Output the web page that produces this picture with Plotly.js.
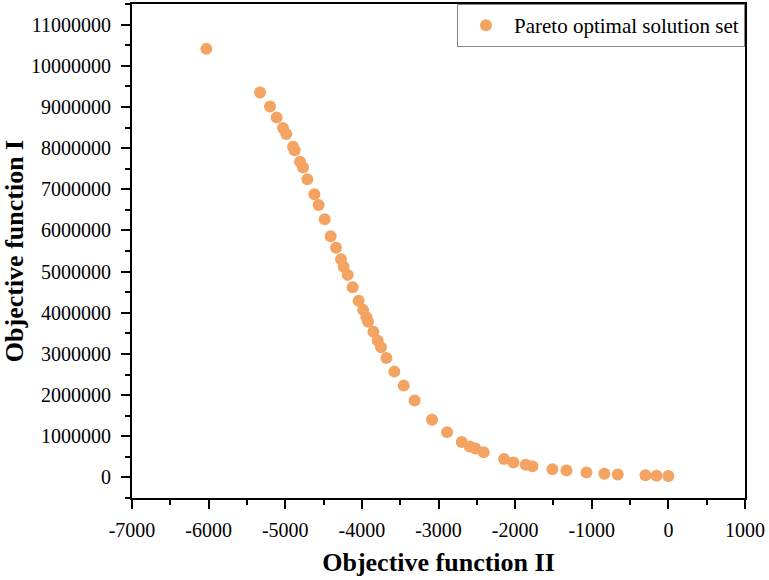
<!DOCTYPE html>
<html>
<head>
<meta charset="utf-8">
<script src="https://cdn.plot.ly/plotly-3.0.1.min.js"></script>
<style>
  html, body { margin: 0; padding: 0; background: #fff; }
  #chart { width: 769px; height: 580px; }
</style>
</head>
<body>
<div id="chart"></div>
<script>
// Pareto front: objective II (x) against objective I (y)
const objectiveII = [
  -6030, -5329, -5199, -5112, -5029, -4986, -4898, -4877, -4807, -4768,
  -4711, -4620, -4564, -4486, -4407, -4337, -4272, -4238, -4185, -4120,
  -4042, -3984, -3941, -3919, -3850, -3794, -3750, -3680, -3576, -3454,
  -3311, -3084, -2888, -2697, -2593, -2518, -2410, -2144, -2022, -1862,
  -1774, -1513, -1330, -1069, -835, -661, -299, -155, 0
];
const objectiveI = [
  10410000, 9350000, 9010000, 8740000, 8490000, 8340000, 8030000, 7950000, 7670000, 7530000,
  7240000, 6880000, 6620000, 6270000, 5860000, 5580000, 5300000, 5120000, 4920000, 4620000,
  4290000, 4070000, 3890000, 3780000, 3540000, 3320000, 3160000, 2900000, 2570000, 2230000,
  1870000, 1400000, 1100000, 860000, 750000, 700000, 610000, 450000, 360000, 310000,
  270000, 200000, 170000, 120000, 90000, 70000, 50000, 40000, 35000
];
// x tick positions and labels (plain hyphen for negatives)
const xTickVals = [-7000, -6000, -5000, -4000, -3000, -2000, -1000, 0, 1000];
const xTickText = ['-7000', '-6000', '-5000', '-4000', '-3000', '-2000', '-1000', '0', '1000'];
const seriesName = 'Pareto optimal solution set';
const xTitle = 'Objective function II';
const yTitle = 'Objective function I';

const serif = 'Liberation Serif, Times New Roman, serif';
const pointColor = 'rgb(244,164,98)';

const trace = {
  x: objectiveII,
  y: objectiveI,
  type: 'scatter',
  mode: 'markers',
  name: seriesName,
  showlegend: true,
  marker: { color: pointColor, size: 12, line: { width: 0 } }
};

const axisCommon = {
  showline: true,
  linecolor: '#000',
  linewidth: 2,
  mirror: true,
  showgrid: false,
  zeroline: false,
  ticks: 'outside',
  ticklen: 9,
  tickwidth: 2,
  tickcolor: '#000',
  tickfont: { family: serif, size: 20, color: '#000' }
};

const layout = {
  width: 769,
  height: 580,
  margin: { l: 132, r: 24, t: 4, b: 82 },
  paper_bgcolor: '#fff',
  plot_bgcolor: '#fff',
  showlegend: true,
  xaxis: Object.assign({}, axisCommon, {
    range: [-7000, 1000],
    tickmode: 'array',
    tickvals: xTickVals,
    ticktext: xTickText,
    ticklabelstandoff: 4,
    minor: { dtick: 500, tick0: 0, ticks: 'outside', ticklen: 5, tickwidth: 2, tickcolor: '#000' },
    title: { text: '<b>' + xTitle + '</b>', font: { family: serif, size: 26, color: '#000' }, standoff: 13 }
  }),
  yaxis: Object.assign({}, axisCommon, {
    range: [-500000, 11500000],
    dtick: 1000000,
    tick0: 0,
    tickformat: 'd',
    ticklabelstandoff: 6,
    minor: { dtick: 500000, ticks: 'outside', ticklen: 5, tickwidth: 2, tickcolor: '#000' },
    title: { text: '<b>' + yTitle + '</b>', font: { family: serif, size: 26, color: '#000' }, standoff: 4 }
  }),
  legend: {
    x: 1, xanchor: 'right', y: 1, yanchor: 'top',
    bgcolor: '#fff',
    bordercolor: '#888',
    borderwidth: 1,
    itemwidth: 46,
    font: { family: serif, size: 21, color: '#000' }
  }
};

Plotly.newPlot('chart', [trace], layout, { displayModeBar: false, staticPlot: true });
</script>
</body>
</html>
